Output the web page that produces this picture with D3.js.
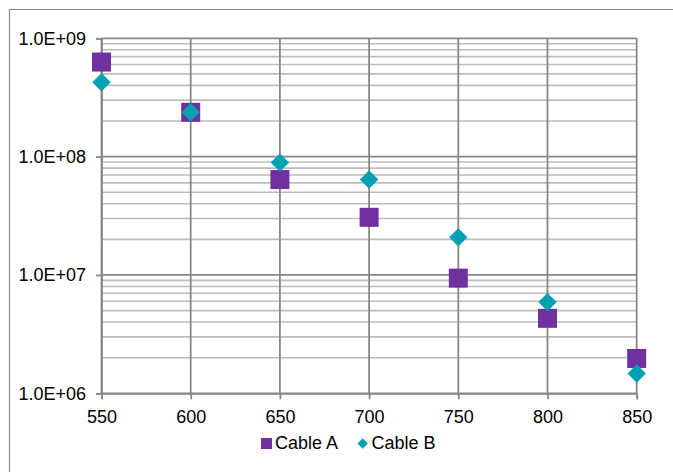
<!DOCTYPE html>
<html>
<head>
<meta charset="utf-8">
<script src="https://cdn.jsdelivr.net/npm/d3@7"></script>
<style>
  html, body { margin: 0; padding: 0; background: #fff; }
  svg { display: block; }
  text { font-family: Arial, "Liberation Sans", sans-serif; fill: #000; }
</style>
</head>
<body>
<svg id="chart" width="673" height="472"></svg>
<script>
// ---- data ----
const temperatures = [550, 600, 650, 700, 750, 800, 850];
const cableA = [6.3e8, 2.37e8, 6.4e7, 3.07e7, 9.4e6, 4.3e6, 1.97e6];
const cableB = [4.25e8, 2.37e8, 8.9e7, 6.4e7, 2.08e7, 5.9e6, 1.47e6];
const seriesNames = ["Cable A", "Cable B"];
const xTickValues = [550, 600, 650, 700, 750, 800, 850];
const yTickValues = [1e6, 1e7, 1e8, 1e9];
const yTickLabels = ["1.0E+06", "1.0E+07", "1.0E+08", "1.0E+09"];

const colorA = "#7030A0";
const colorB = "#00A1B0";

const svg = d3.select("#chart");

// outer frame (partially visible)
svg.append("path")
  .attr("d", "M9.5,473 L9.5,9.5 L674,9.5")
  .attr("fill", "none")
  .attr("stroke", "#8a8a8a")
  .attr("stroke-width", 1.2);

const x = d3.scaleLinear().domain([550, 850]).range([101.5, 636.7]);
const y = d3.scaleLog().domain([1e6, 1e9]).range([393.3, 38.3]);

// minor horizontal gridlines
const minorVals = [];
[1e6, 1e7, 1e8].forEach(dec => { for (let k = 2; k <= 9; k++) minorVals.push(dec * k); });
const grid = svg.append("g");
grid.selectAll("line.minor").data(minorVals).join("line")
  .attr("class", "minor")
  .attr("x1", x(550)).attr("x2", x(850))
  .attr("y1", d => y(d)).attr("y2", d => y(d))
  .attr("stroke", "#bdbdbd").attr("stroke-width", 1.6);

// major horizontal gridlines
grid.selectAll("line.majorh").data(yTickValues).join("line")
  .attr("class", "majorh")
  .attr("x1", x(550)).attr("x2", x(850))
  .attr("y1", d => y(d)).attr("y2", d => y(d))
  .attr("stroke", "#888").attr("stroke-width", 1.8);

// vertical gridlines
grid.selectAll("line.majorv").data(xTickValues).join("line")
  .attr("class", "majorv")
  .attr("x1", d => x(d)).attr("x2", d => x(d))
  .attr("y1", y(1e9)).attr("y2", y(1e6))
  .attr("stroke", "#888").attr("stroke-width", 1.8);

// axes
const yAxis = d3.axisLeft(y)
  .tickValues(yTickValues)
  .tickFormat((d, i) => yTickLabels[i])
  .tickSize(5.5).tickPadding(10);
const gy = svg.append("g").attr("transform", `translate(${x(550)},0)`).call(yAxis);
gy.select(".domain").attr("stroke", "#888").attr("stroke-width", 1.8);
gy.selectAll(".tick line").attr("stroke", "#888").attr("stroke-width", 1.8);
gy.selectAll("text").style("font-size", "18px");

const xAxis = d3.axisBottom(x)
  .tickValues(xTickValues)
  .tickFormat(d3.format("d"))
  .tickSize(6).tickPadding(10.5);
const gx = svg.append("g").attr("transform", `translate(0,${y(1e6)})`).call(xAxis);
gx.select(".domain").attr("stroke", "#888").attr("stroke-width", 1.8);
gx.selectAll(".tick line").attr("stroke", "#888").attr("stroke-width", 1.8);
gx.selectAll("text").style("font-size", "18px");

// markers
const sq = 19;
svg.append("g").selectAll("rect").data(temperatures).join("rect")
  .attr("x", (d) => x(d) - sq / 2)
  .attr("y", (d, i) => y(cableA[i]) - sq / 2)
  .attr("width", sq).attr("height", sq)
  .attr("fill", colorA);

const r = 9.2;
const diamond = (cx, cy, h) => `M${cx},${cy - h}L${cx + h},${cy}L${cx},${cy + h}L${cx - h},${cy}Z`;
svg.append("g").selectAll("path").data(temperatures).join("path")
  .attr("d", (d, i) => diamond(x(d), y(cableB[i]), r))
  .attr("fill", colorB);

// legend
const lg = svg.append("g");
lg.append("rect").attr("x", 261).attr("y", 438).attr("width", 11).attr("height", 11).attr("fill", colorA);
lg.append("text").attr("x", 275).attr("y", 449.3).style("font-size", "18px").text(seriesNames[0]);
lg.append("path").attr("d", diamond(362.7, 443.5, 5.2)).attr("fill", colorB);
lg.append("text").attr("x", 371.5).attr("y", 449.3).style("font-size", "18px").text(seriesNames[1]);
</script>
</body>
</html>
